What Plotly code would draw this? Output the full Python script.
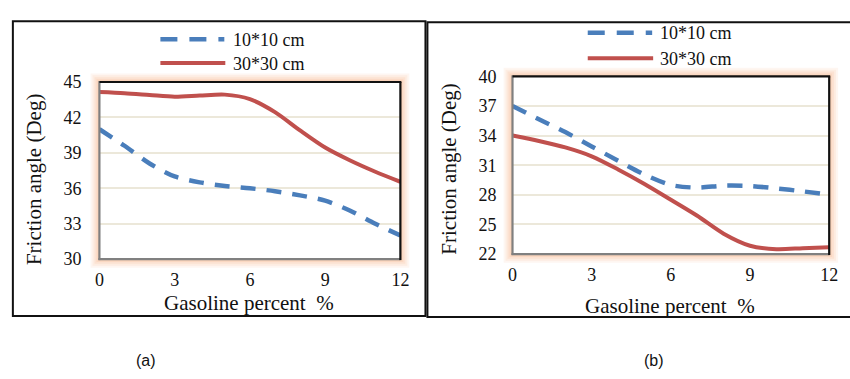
import plotly.graph_objects as go

W, H = 850, 379

# ---------------- data ----------------
gasoline = [0, 1, 2, 3, 4, 5, 6, 7, 8, 9, 10, 11, 12]
a_10x10 = [41.0, 39.6, 38.1, 37.0, 36.5, 36.2, 36.0, 35.75, 35.4, 34.95, 34.1, 33.0, 32.0]
a_30x30 = [44.15, 44.05, 43.9, 43.75, 43.85, 43.93, 43.55, 42.45, 40.9, 39.45, 38.35, 37.4, 36.55]
b_10x10 = [37.0, 35.65, 34.35, 32.9, 31.45, 30.05, 29.0, 28.73, 28.93, 28.9, 28.65, 28.35, 28.0]
b_30x30 = [34.0, 33.45, 32.8, 31.9, 30.57, 29.1, 27.5, 25.88, 24.07, 22.85, 22.5, 22.6, 22.7]
x_ticks = [0, 3, 6, 9, 12]
series_names = ["10*10 cm", "30*30 cm"]
panel_labels = ["(a)", "(b)"]

BLUE = "#4A7EBB"
RED = "#C0504D"
GRID = "#ECE8DA"
FONT = "Liberation Serif"
TXT = "#111111"
DASH = "15px,11px"


def X(px):
    return px / W


def Y(py):
    return 1 - py / H


# plot area pixel boxes (left, top, right, bottom)
boxA = (96, 76, 402, 263)
boxB = (516, 70, 838, 257.7)

fig = go.Figure()

for xa, ya, d10, d30 in [("x", "y", a_10x10, a_30x30), ("x2", "y2", b_10x10, b_30x30)]:
    fig.add_trace(go.Scatter(x=gasoline, y=d10, mode="lines", name=series_names[0],
                             line=dict(color=BLUE, width=4.5, dash=DASH, shape="spline", smoothing=0.8),
                             xaxis=xa, yaxis=ya, showlegend=False))
    fig.add_trace(go.Scatter(x=gasoline, y=d30, mode="lines", name=series_names[1],
                             line=dict(color=RED, width=4, shape="spline", smoothing=0.8),
                             xaxis=xa, yaxis=ya, showlegend=False))

axis_common = dict(showline=False, zeroline=False, ticks="",
                   tickfont=dict(family=FONT, size=18, color=TXT))

fig.update_layout(
    width=W, height=H,
    margin=dict(l=0, r=0, t=0, b=0),
    paper_bgcolor="white",
    plot_bgcolor="rgba(0,0,0,0)",
    showlegend=False,
    xaxis=dict(domain=[X(boxA[0]), X(boxA[2])], range=[0, 12], tickvals=x_ticks,
               showgrid=False, anchor="y", ticklabelstandoff=8, **axis_common),
    yaxis=dict(domain=[Y(boxA[3]), Y(boxA[1])], range=[30, 45], tick0=30, dtick=3,
               showgrid=True, gridcolor=GRID, gridwidth=1.5, anchor="x",
               ticklabelstandoff=17, **axis_common),
    xaxis2=dict(domain=[X(boxB[0]), X(boxB[2])], range=[0, 12], tickvals=x_ticks,
                showgrid=False, anchor="y2", ticklabelstandoff=8, **axis_common),
    yaxis2=dict(domain=[Y(boxB[3]), Y(boxB[1])], range=[22, 40], tick0=22, dtick=3,
                showgrid=True, gridcolor=GRID, gridwidth=1.5, anchor="x2",
                ticklabelstandoff=15, **axis_common),
)

shapes = []
# outer panel boxes
shapes.append(dict(type="rect", xref="paper", yref="paper", layer="above",
                   x0=X(8), x1=X(427.5), y0=Y(323), y1=Y(12),
                   line=dict(color="#111111", width=2), fillcolor="rgba(0,0,0,0)"))
shapes.append(dict(type="rect", xref="paper", yref="paper", layer="above",
                   x0=X(429.5), x1=X(870), y0=Y(324), y1=Y(13),
                   line=dict(color="#111111", width=2), fillcolor="rgba(0,0,0,0)"))

for (l, t, r, b) in [boxA, boxB]:
    # soft orange glow around the plot area
    for k, op in [(9, 0.10), (7, 0.12), (5, 0.15), (3, 0.18), (1.5, 0.2)]:
        shapes.append(dict(type="rect", xref="paper", yref="paper", layer="below",
                           x0=X(l - k), x1=X(r + k), y0=Y(b + k), y1=Y(t - k),
                           line=dict(width=0), fillcolor=f"rgba(246,170,120,{op})"))
    shapes.append(dict(type="rect", xref="paper", yref="paper", layer="below",
                       x0=X(l), x1=X(r), y0=Y(b), y1=Y(t),
                       line=dict(width=0), fillcolor="white"))
    # frame: left/bottom gray, top/right black
    shapes.append(dict(type="line", xref="paper", yref="paper", layer="above",
                       x0=X(l), x1=X(l), y0=Y(b + 1), y1=Y(t - 1), line=dict(color="#808080", width=2.2)))
    shapes.append(dict(type="line", xref="paper", yref="paper", layer="above",
                       x0=X(l - 1), x1=X(r), y0=Y(b), y1=Y(b), line=dict(color="#808080", width=2.2)))
    shapes.append(dict(type="line", xref="paper", yref="paper", layer="above",
                       x0=X(l), x1=X(r + 1), y0=Y(t), y1=Y(t), line=dict(color="#111111", width=2.2)))
    shapes.append(dict(type="line", xref="paper", yref="paper", layer="above",
                       x0=X(r), x1=X(r), y0=Y(b + 1), y1=Y(t), line=dict(color="#111111", width=2.2)))

annotations = []
# legends (drawn as sample lines + text)
for (lx0, lx1, ty, y1, y2) in [(158, 223, 230, 31, 56), (592.5, 658, 664, 24, 51)]:
    shapes.append(dict(type="line", xref="paper", yref="paper",
                       x0=X(lx0), x1=X(lx1), y0=Y(y1), y1=Y(y1),
                       line=dict(color=BLUE, width=4.5, dash="17px,12px")))
    shapes.append(dict(type="line", xref="paper", yref="paper",
                       x0=X(lx0), x1=X(lx1 + 1), y0=Y(y2), y1=Y(y2),
                       line=dict(color=RED, width=4)))
    for name, yy in zip(series_names, [y1, y2]):
        annotations.append(dict(xref="paper", yref="paper", x=X(ty), y=Y(yy + 0.5),
                                xanchor="left", yanchor="middle", showarrow=False,
                                text=name, font=dict(family=FONT, size=18, color=TXT)))

# axis titles
for cx, cy in [(248, 309.5), (676, 312)]:
    annotations.append(dict(xref="paper", yref="paper", x=X(cx), y=Y(cy),
                            xanchor="center", yanchor="middle", showarrow=False,
                            text="Gasoline percent\u00a0 %", font=dict(family=FONT, size=21, color=TXT)))
for cx, cy in [(29, 179), (452, 168)]:
    annotations.append(dict(xref="paper", yref="paper", x=X(cx), y=Y(cy),
                            xanchor="center", yanchor="middle", showarrow=False, textangle=-90,
                            text="Friction angle (Deg)", font=dict(family=FONT, size=21, color=TXT)))

# panel labels
for lab, cx in zip(panel_labels, [143, 660]):
    annotations.append(dict(xref="paper", yref="paper", x=X(cx), y=Y(370),
                            xanchor="center", yanchor="middle", showarrow=False,
                            text=lab, font=dict(family="Liberation Sans Narrow, Liberation Sans", size=16, color=TXT)))

fig.update_layout(shapes=shapes, annotations=annotations)
fig.write_html("out.html", config={"responsive": False, "displayModeBar": False},
               post_script="document.body.style.margin='0';document.body.style.overflow='hidden';")
